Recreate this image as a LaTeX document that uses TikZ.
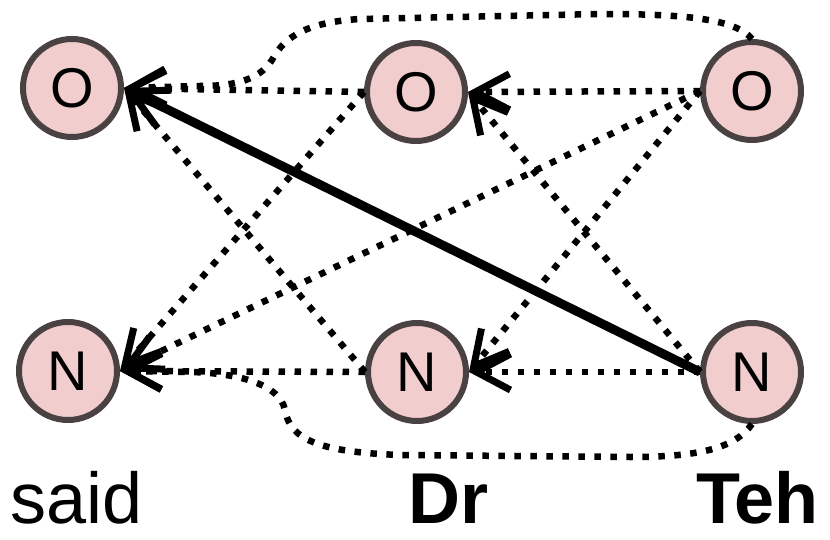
\documentclass[tikz,border=0pt]{standalone}
\usepackage{fontspec}
\setmainfont{Liberation Sans}
\usetikzlibrary{arrows.meta}
\definecolor{nodefill}{RGB}{242,205,205}
\definecolor{nodeborder}{RGB}{74,66,66}
\tikzset{
  state/.style={circle, draw=nodeborder, fill=nodefill, line width=6pt,
    minimum size=98pt, inner sep=0pt, font=\fontsize{56}{60}\selectfont},
  tip/.style={-{Straight Barb[length=34pt,width=36pt,line width=7pt]}},
  dotedge/.style={tip, line width=6.5pt, dash pattern=on 6.5pt off 9.5pt},
  solidedge/.style={-{Straight Barb[length=36pt,width=38pt,line width=7pt]}, line width=9pt},
  word/.style={anchor=base west, inner sep=0pt, font=\fontsize{72}{84}\selectfont}
}
\begin{document}
\begin{tikzpicture}[x=1pt,y=-1pt]
\useasboundingbox (0,0) rectangle (830,540);
\node[state] (lO) at (72,88) {O};
\node[state] (mO) at (416,92) {O};
\node[state] (rO) at (752,91) {O};
\node[state] (lN) at (68,371) {N};
\node[state] (mN) at (417,372) {N};
\node[state] (rN) at (752,372) {N};
% straight dotted edges
\draw[dotedge] (mO.west) -- (lO.east);
\draw[dotedge] (rO.west) -- (mO.east);
\draw[dotedge] (mN.west) -- (lN.east);
\draw[dotedge] (rN.west) -- (mN.east);
\draw[dotedge] (mO.west) -- (lN.east);
\draw[dotedge] (rO.west) -- (lN.east);
\draw[dotedge] (rO.west) -- (mN.east);
\draw[dotedge] (mN.west) -- (lO.east);
\draw[dotedge] (rN.west) -- (mO.east);
% curved dotted edges
\coordinate (t1) at (600,14);
\coordinate (t2) at (360,19);
\coordinate (t3) at (272,60);
\coordinate (t4) at (200,86);
\draw[dotedge] (rO.north) .. controls (735,18) and (680,14) .. (t1) -- (t2)
  .. controls (310,22) and (285,35) .. (t3)
  .. controls (258,82) and (230,86) .. (t4) -- (lO.east);
\coordinate (b1) at (630,457);
\coordinate (b2) at (400,455);
\coordinate (b3) at (285,410);
\coordinate (b4) at (190,372);
\draw[dotedge] (rN.south) .. controls (735,448) and (700,457) .. (b1) -- (b2)
  .. controls (320,452) and (290,440) .. (b3)
  .. controls (280,385) and (240,373) .. (b4) -- (lN.east);
% solid edge
\draw[solidedge] (rN.west) -- (lO.east);
% labels
\node[word] (said) at (10,523) {said};
\node[word] (dr) at (408,523) {\bfseries Dr};
\node[word] (teh) at (696,523) {\bfseries Teh};
\end{tikzpicture}
\end{document}
